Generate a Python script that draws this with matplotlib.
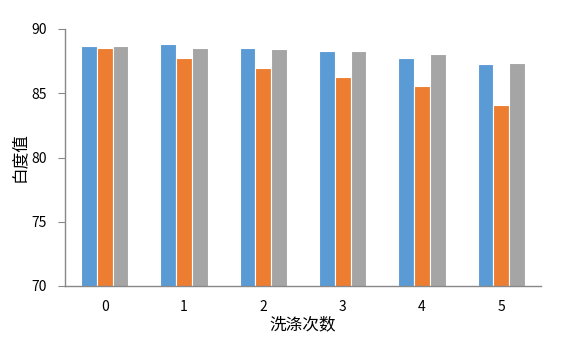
import matplotlib
matplotlib.use("Agg")
import matplotlib.pyplot as plt
import numpy as np

plt.rcParams['font.family'] = ['Noto Sans CJK SC', 'DejaVu Sans']

categories = ["0", "1", "2", "3", "4", "5"]
series_a = [88.64, 88.80, 88.56, 88.25, 87.78, 87.24]
series_b = [88.56, 87.78, 86.93, 86.23, 85.53, 84.12]
series_c = [88.64, 88.56, 88.48, 88.25, 88.09, 87.39]
colors = ["#5B9BD5", "#ED7D31", "#A5A5A5"]

fig = plt.figure(figsize=(5.69, 3.40), dpi=100)
ax = fig.add_axes([65/569, 1-286/340, (541-65)/569, (286-29)/340])

x = np.arange(len(categories))
w = 0.2
for i, (vals, c) in enumerate(zip([series_a, series_b, series_c], colors)):
    ax.bar(x + (i-1)*w, vals, width=w, color=c, edgecolor='white', linewidth=0.8, zorder=2)

ax.set_xlim(-0.5, len(categories)-0.5)
ax.set_ylim(70, 90)
ax.set_yticks([70, 75, 80, 85, 90])
ax.set_xticks(x)
ax.set_xticklabels(categories)
for s in ['top', 'right']:
    ax.spines[s].set_visible(False)
for s in ['left', 'bottom']:
    ax.spines[s].set_color('#888888')
    ax.spines[s].set_linewidth(1.0)
ax.tick_params(axis='y', length=5, color='#888888', labelsize=10, pad=8)
ax.tick_params(axis='x', length=0, labelsize=10, pad=10)
ax.set_ylabel("白度值", fontsize=12)
ax.yaxis.set_label_coords(-0.078, 0.5)
ax.set_xlabel("洗涤次数", fontsize=12, labelpad=2)

fig.savefig("out.png", dpi=100)
